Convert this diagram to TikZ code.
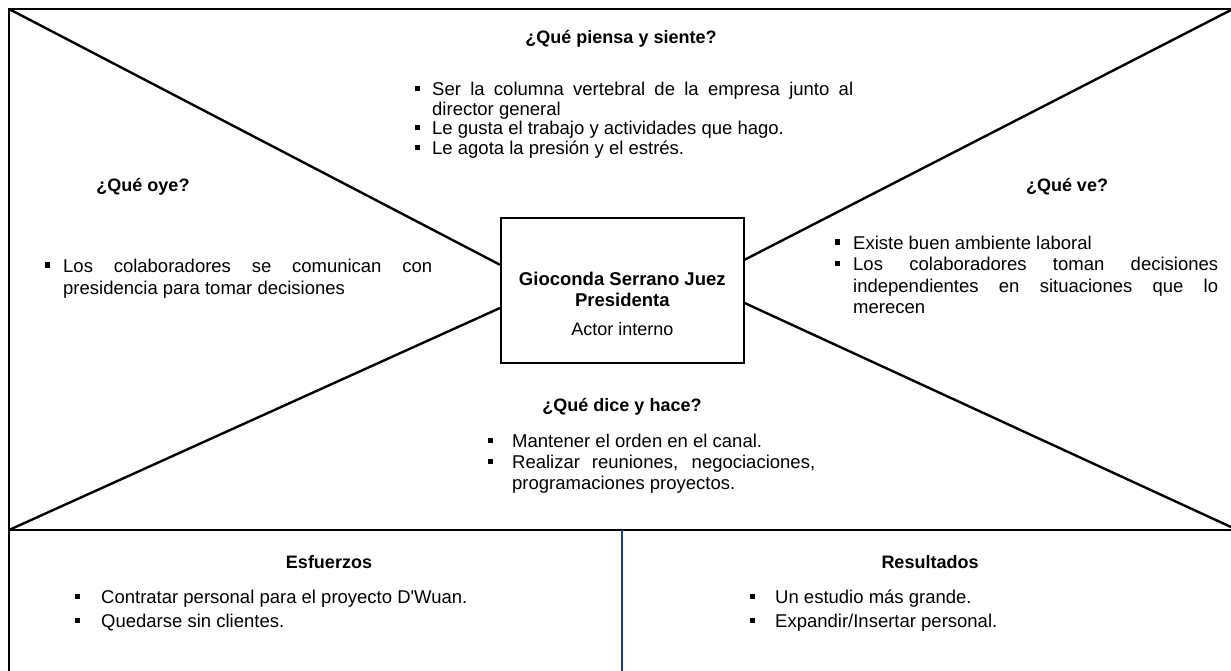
\documentclass[tikz,border=0pt]{standalone}
\usepackage{fontspec}
\setmainfont{Liberation Sans}
\usetikzlibrary{calc}
\definecolor{navyline}{HTML}{203F7A}
\hyphenpenalty=10000
\exhyphenpenalty=10000
\newlength{\bi}
\newcommand{\bulmark}{\makebox[\bi][l]{\raisebox{4.5pt}{\rule{5pt}{5pt}}}}
\newcommand{\bulfirst}{\hangindent=\bi\hangafter=1\noindent\bulmark\ignorespaces}
\newcommand{\bul}{\par\hangindent=\bi\hangafter=1\noindent\bulmark\ignorespaces}
\newcommand{\straightquote}{\XeTeXglyph\XeTeXglyphindex "quotesingle"\relax}
\begin{document}
\begin{tikzpicture}[x=1pt,y=-1pt,
  frame/.style={line width=2.4pt, black},
  diag/.style={line width=2.4pt, black, line cap=round},
  divider/.style={line width=2.2pt, navyline},
  heading/.style={font=\fontsize{18}{21}\selectfont\bfseries, anchor=base, inner sep=0},
  body/.style={font=\fontsize{18.5}{21.5}\selectfont, anchor=base west, inner sep=0, align=justify},
  actorbox/.style={draw, line width=2.4pt, minimum width=243pt, minimum height=145pt, inner sep=0},
]
\useasboundingbox (0,0) rectangle (1231,671);

% frame
\coordinate (tl) at (9,9);
\coordinate (tr) at (1231,9);
\coordinate (ml) at (9,530);
\coordinate (mr) at (1231,530);
\coordinate (bl) at (9,671);
\coordinate (mid) at (622,530);
\coordinate (midb) at (622,671);
\coordinate (trd) at (1231,10);
\coordinate (brd) at (1231,527);
\draw[frame] (tr) -- (tl) -- (bl);
\draw[frame] (ml) -- (mr);
\draw[divider] (mid) -- (midb);

% central box
\node[actorbox] (actor) at (622.3,290.5) {};
\draw[diag] (tl) -- ($(actor.north west)!0.324!(actor.south west)$);
\draw[diag] (ml) -- ($(actor.north west)!0.62!(actor.south west)$);
\draw[diag] (trd) -- ($(actor.north east)!0.29!(actor.south east)$);
\draw[diag] (brd) -- ($(actor.north east)!0.586!(actor.south east)$);

\node[heading, font=\fontsize{18.5}{21}\selectfont\bfseries] (name) at (622.3,285) {Gioconda Serrano Juez};
\node[heading, font=\fontsize{18.5}{21}\selectfont\bfseries] (role) at (622.3,306.5) {Presidenta};
\node[heading, font=\fontsize{18}{21}\selectfont] (kind) at (622.3,335) {Actor interno};

% headings
\node[heading] (h1) at (621,44) {¿Qué piensa y siente?};
\node[heading] (h2) at (143,192) {¿Qué oye?};
\node[heading] (h3) at (1067,192) {¿Qué ve?};
\node[heading] (h4) at (622,411) {¿Qué dice y hace?};
\node[heading] (h5) at (329,568) {Esfuerzos};
\node[heading] (h6) at (930,568) {Resultados};

% bullet lists
\node[body, text width=438pt, font=\fontsize{18.5}{19.5}\selectfont] (b1) at (415,96)
  {\setlength{\bi}{17pt}\bulfirst Ser la columna vertebral de la empresa junto al director general
   \bul Le gusta el trabajo y actividades que hago.
   \bul Le agota la presión y el estrés.\par};
\node[body, text width=387pt, font=\fontsize{18.5}{22}\selectfont] (b2) at (45,272)
  {\setlength{\bi}{18pt}\bulfirst Los colaboradores se comunican con presidencia para tomar decisiones\par};
\node[body, text width=383pt] (b3) at (835,249)
  {\setlength{\bi}{18pt}\bulfirst Existe buen ambiente laboral
   \bul Los colaboradores toman decisiones independientes en situaciones que lo merecen\par};
\node[body, text width=327pt, font=\fontsize{18.5}{21}\selectfont] (b4) at (488,447)
  {\setlength{\bi}{24pt}\bulfirst Mantener el orden en el canal.
   \bul Realizar reuniones, negociaciones, programaciones proyectos.\par};
\node[body, text width=500pt, font=\fontsize{18.5}{24}\selectfont] (b5) at (75,603)
  {\setlength{\bi}{26pt}\bulfirst Contratar personal para el proyecto D\straightquote Wuan.
   \bul Quedarse sin clientes.\par};
\node[body, text width=420pt, font=\fontsize{18.5}{24}\selectfont] (b6) at (750,603)
  {\setlength{\bi}{25pt}\bulfirst Un estudio más grande.
   \bul Expandir/Insertar personal.\par};
\end{tikzpicture}
\end{document}
